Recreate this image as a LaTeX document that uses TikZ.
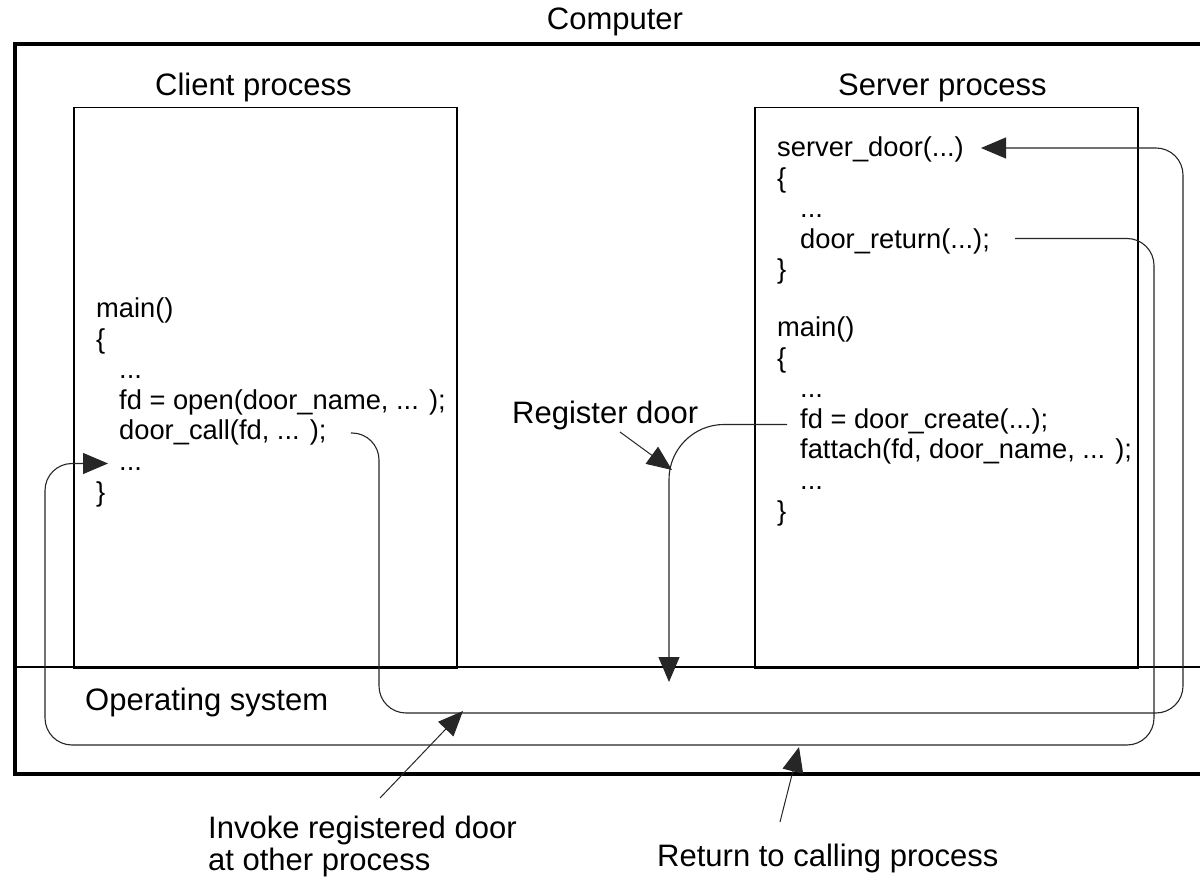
\documentclass[tikz,border=0pt]{standalone}
\usepackage{fontspec}
\setmainfont{Liberation Sans}
\usetikzlibrary{arrows.meta}
\begin{document}
\begin{tikzpicture}[x=1pt,y=-1pt,
  code/.style={anchor=base west, inner sep=0pt, font=\fontsize{27.3}{30.5}\selectfont, text height=20pt, text depth=6pt},
  lbl/.style={anchor=base west, inner sep=0pt, font=\fontsize{31}{36}\selectfont},
  conn/.style={line width=1.1pt, draw=black!85, rounded corners=27pt},
  tip/.style={-{Triangle[length=25pt,width=21pt]}},
  procbox/.style={draw, line width=1.5pt, inner sep=0pt, anchor=north west, minimum width=383pt, minimum height=560pt}]
\clip (0,0) rectangle (1200,882);
\fill[white] (0,0) rectangle (1200,882);
% computer frame and OS line
\draw[line width=3.6pt] (1250,44) -- (15,44) -- (15,774) -- (1250,774);
\draw[line width=1.3pt] (15,667) -- (1250,667);
% process boxes
\node[procbox] (client) at (73,107) {};
\node[procbox] (server) at (754,107) {};
% labels
\node[lbl, anchor=base] (comp) at (615,30) {Computer};
\node[lbl] (cp) at (155,96) {Client process};
\node[lbl] (sp) at (838,96) {Server process};
\node[lbl] (reg) at (512,424) {Register door};
\node[lbl] (os) at (85,710) {Operating system};
\node[lbl] (inv1) at (208,838) {Invoke registered door};
\node[lbl] (inv2) at (208,870) {at other process};
\node[lbl] (ret) at (657,866) {Return to calling process};
% client code
\node[code] (cm) at (96,318) {main()};
\node[code] (cb1) at (96,348.5) {\{};
\node[code] (cd1) at (119,379) {...};
\node[code] (co) at (119,409.5) {fd = open(door\_name, ... );};
\node[code] (dc) at (119,440) {door\_call(fd, ... );};
\node[code] (cd) at (119,470.5) {...};
\node[code] (cb2) at (96,501) {\}};
% server code
\node[code] (sd) at (777,157) {server\_door(...)};
\node[code] (sb1) at (777,187.5) {\{};
\node[code] (sd1) at (800,218) {...};
\node[code] (dr) at (800,248.5) {door\_return(...);};
\node[code] (sb2) at (777,279) {\}};
\node[code] (sm) at (777,337) {main()};
\node[code] (sb3) at (777,367.5) {\{};
\node[code] (sd2) at (800,398) {...};
\node[code] (fdc) at (800,428.5) {fd = door\_create(...);};
\node[code] (fat) at (800,459) {fattach(fd, door\_name, ... );};
\node[code] (sd3) at (800,489.5) {...};
\node[code] (sb4) at (777,520) {\}};
% coordinates
\coordinate (regtip) at (669,682);
\coordinate (rega) at (620,432);
\coordinate (regb) at (672,470);
\coordinate (inva) at (380,798);
\coordinate (invb) at (463,711);
\coordinate (reta) at (780,822);
\coordinate (retb) at (799,747);
% connectors
\draw[conn, tip] ([xshift=24pt]dc.east) -| (379,713) -- (1183,713) |- ([xshift=17pt,yshift=2pt]sd.east);
\draw[conn, tip] ([xshift=25pt,yshift=3pt]dr.east) -| (1154,745) -- (45,745) |- ([xshift=-11pt]cd.west);
\draw[conn, rounded corners=55pt, tip] ([xshift=-13pt,yshift=-3pt]fdc.west) -| (regtip);
% label arrows
\draw[line width=1pt, draw=black!85, tip] (rega) -- (regb);
\draw[line width=1pt, draw=black!85, tip] (inva) -- (invb);
\draw[line width=1pt, draw=black!85, tip] (reta) -- (retb);
\end{tikzpicture}
\end{document}
